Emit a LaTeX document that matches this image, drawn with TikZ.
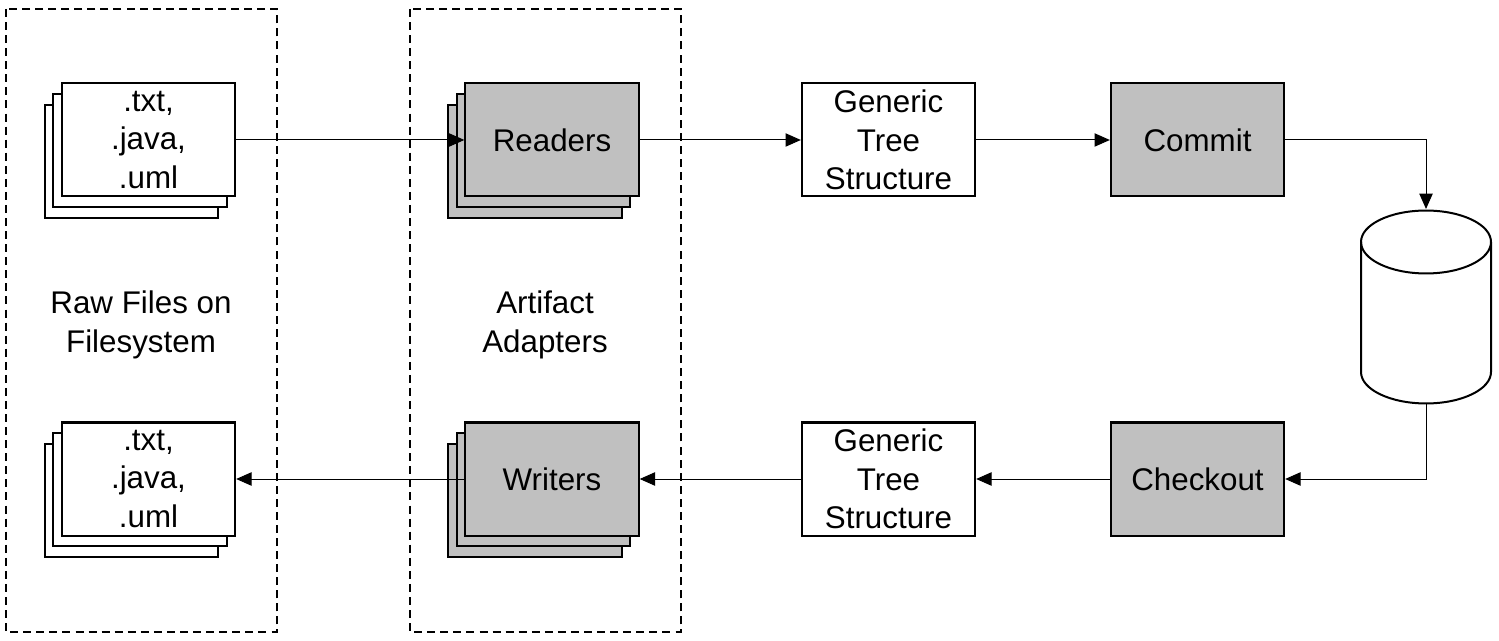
\documentclass[tikz,border=0pt]{standalone}
\usepackage{fontspec}
\setmainfont{Liberation Sans}
\usetikzlibrary{arrows.meta}
\definecolor{boxgray}{HTML}{C0C0C0}
\begin{document}
\begin{tikzpicture}[x=0.75pt,y=-0.75pt,
  box/.style={draw=black,line width=1.5pt,minimum width=130pt,minimum height=84.75pt,
    inner sep=0pt,align=center,font=\fontsize{23.5}{28.9}\selectfont},
  whitebox/.style={box,fill=white},
  graybox/.style={box,fill=boxgray},
  arr/.style={line width=0.75pt,-{Triangle[length=11.5pt,width=10pt]}},
  container/.style={draw=black,line width=1.5pt,dash pattern=on 6pt off 3.8pt},
  lbl/.style={align=center,font=\fontsize{23.5}{29.5}\selectfont}]
\useasboundingbox (0,0) rectangle (1499,641);
% containers
\draw[container] (6,9) rectangle (277,632);
\draw[container] (410,9) rectangle (681,632);
\node[lbl] (rawlbl) at (141,325) {Raw Files on\\Filesystem};
\node[lbl] (adlbl) at (545,325) {Artifact\\Adapters};
% top file stack
\node[whitebox] (f1c) at (131.5,161.5) {};
\node[whitebox] (f1b) at (140,150.5) {};
\node[whitebox] (f1) at (148.5,140) {.txt,\\.java,\\.uml};
% bottom file stack
\node[whitebox] (f2c) at (131.5,500.5) {};
\node[whitebox] (f2b) at (140,489.5) {};
\node[whitebox] (f2) at (148.5,479) {.txt,\\.java,\\.uml};
% readers
\node[graybox] (rdc) at (535,161.5) {};
\node[graybox] (rdb) at (543.5,150.5) {};
\node[graybox] (rd) at (552,140) {Readers};
% writers
\node[graybox] (wrc) at (535,500.5) {};
\node[graybox] (wrb) at (543.5,489.5) {};
\node[graybox] (wr) at (552,479) {Writers};
% generic trees
\node[whitebox] (gt1) at (888.5,140) {Generic\\Tree\\Structure};
\node[whitebox] (gt2) at (888.5,479) {Generic\\Tree\\Structure};
% commit / checkout
\node[graybox] (commit) at (1197.5,140) {Commit};
\node[graybox] (checkout) at (1197.5,479) {Checkout};
% database cylinder
\coordinate (dbtop) at (1426,209);
\coordinate (dbbot) at (1426,404);
\draw[line width=1.5pt,fill=white] (1361,242) -- (1361,372)
  arc[start angle=180,end angle=360,x radius=48.75pt,y radius=23.6pt]
  -- (1491,242)
  arc[start angle=0,end angle=180,x radius=48.75pt,y radius=23.6pt] -- cycle;
\draw[line width=1.5pt] (1361,242)
  arc[start angle=180,end angle=360,x radius=48.75pt,y radius=23.6pt];
% connectors
\draw[arr] (f1.east) -- (rd.west);
\draw[arr] (rd.east) -- (gt1.west);
\draw[arr] (gt1.east) -- (commit.west);
\draw[arr] (commit.east) -| (dbtop);
\draw[arr] (dbbot) |- (checkout.east);
\draw[arr] (checkout.west) -- (gt2.east);
\draw[arr] (gt2.west) -- (wr.east);
\draw[arr] (wr.west) -- (f2.east);
\end{tikzpicture}
\end{document}
